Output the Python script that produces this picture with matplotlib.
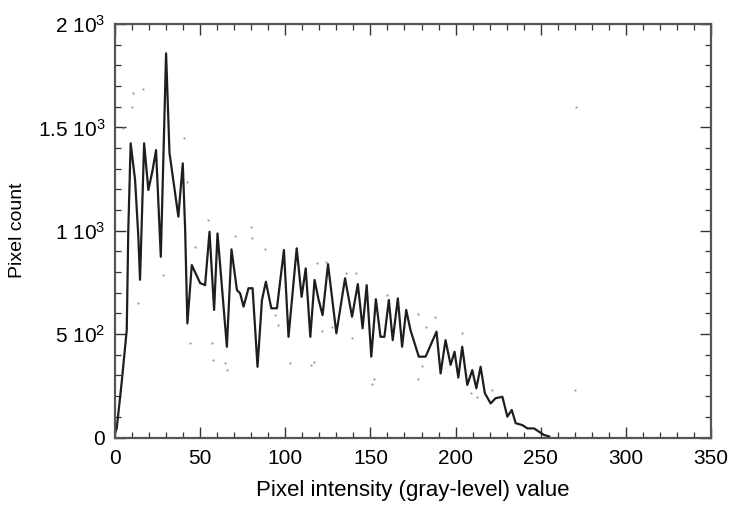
import numpy as np
import matplotlib
matplotlib.use('Agg')
import matplotlib.pyplot as plt
from matplotlib.ticker import MultipleLocator, FixedLocator

plt.rcParams['font.family'] = ['Liberation Sans', 'DejaVu Sans']
plt.rcParams['mathtext.fontset'] = 'custom'
plt.rcParams['mathtext.rm'] = 'Liberation Sans'
plt.rcParams['mathtext.it'] = 'Liberation Sans'

# Histogram trace (gray level vs pixel count)
intensity = [0, 1, 3.9, 6.9, 7.8,
             9.2, 11.8, 13.7, 14.7, 17.1,
             19.6, 22, 24.1, 26.9, 30,
             32, 35, 37.2, 39.8, 41.2,
             42.5, 45.1, 50, 52.9, 55.5,
             58.2, 60.2, 65.7, 68.4, 71.6,
             73.5, 75.5, 78.4, 80.8, 83.7,
             86.3, 88.6, 91.8, 95.1, 99.2,
             101.9, 106.7, 109.6, 112, 114.7,
             117.2, 119.6, 121.9, 125.1, 130,
             135.1, 139.2, 142.6, 145.4, 147.8,
             150.5, 153.2, 155.9, 158.2, 160.8,
             163.1, 166.1, 168.6, 171, 173.5,
             178.4, 182.4, 188.8, 191.2, 194.1,
             197.1, 199.4, 201.6, 203.9, 206.9,
             209.8, 212.2, 214.7, 217.2, 220.6,
             223.5, 227.5, 230.4, 233, 235.3,
             239.2, 242.2, 246.1, 249, 252,
             255]
counts = [20, 44, 264, 520, 1003,
          1423, 1245, 971, 763, 1423,
          1197, 1290, 1390, 874, 1858,
          1376, 1200, 1068, 1326, 1003,
          552, 834, 747, 737, 995,
          617, 987, 439, 910, 713,
          697, 633, 722, 722, 342,
          665, 753, 625, 625, 907,
          487, 915, 680, 818, 487,
          762, 665, 592, 838, 504,
          770, 584, 742, 528, 737,
          391, 669, 487, 487, 665,
          471, 673, 439, 617, 520,
          391, 391, 512, 310, 471,
          351, 415, 290, 439, 254,
          326, 238, 342, 214, 165,
          190, 197, 101, 133, 69,
          60, 44, 44, 28, 12,
          5]

# faint scattered dots around the curve
dot_x = [4.9, 9.8, 10.8, 16.3, 13.7, 28.4, 40.6, 42.2, 44.1, 47.1,
         54.5, 56.9, 57.8, 64.7, 65.7, 70.2, 80, 80.4, 87.8, 93.7,
         95.7, 102.9, 115.3, 116.6, 118.6, 121.6, 123.9, 127.5, 135.9, 139.2,
         141.8, 151, 152, 159.8, 177.8, 177.8, 180, 182.4, 188.2, 203.9,
         208.8, 212.7, 221.6, 270, 271]
dot_y = [1495, 1597, 1667, 1684, 649, 786, 1447, 1237, 455, 923,
         1052, 455, 375, 359, 326, 974, 1019, 963, 910, 592,
         544, 359, 351, 367, 842, 516, 850, 536, 797, 480,
         794, 259, 281, 689, 597, 283, 346, 536, 584, 504,
         214, 194, 230, 230, 1600]

y_ticks = [0, 500, 1000, 1500, 2000]
y_labels = ['0', r'5 10$^2$', r'1 10$^3$', r'1.5 10$^3$', r'2 10$^3$']

fig = plt.figure(figsize=(7.34, 5.12), dpi=100)
ax = fig.add_axes([115/734, 74.5/512, 596/734, 413.5/512])

ax.plot(dot_x, dot_y, 's', ms=1.3, color='#8a8a8a', mec='none')
ax.plot(intensity, counts, '-', color='#1e1e1e', lw=1.6)

ax.set_xlim(0, 350)
ax.set_ylim(0, 2000)
ax.xaxis.set_major_locator(MultipleLocator(50))
ax.xaxis.set_minor_locator(MultipleLocator(10))
ax.yaxis.set_major_locator(FixedLocator(y_ticks))
ax.yaxis.set_minor_locator(MultipleLocator(100))
ax.set_yticklabels(y_labels)

ax.tick_params(which='both', direction='in', top=True, right=True,
               labelsize=15, color='#333333')
ax.tick_params(which='major', length=8, width=1.0)
ax.tick_params(which='minor', length=4.5, width=0.9)
ax.tick_params(axis='x', pad=8)
ax.tick_params(axis='y', pad=7)
for s in ax.spines.values():
    s.set_linewidth(1.6)
    s.set_color('#555555')

ax.set_xlabel('Pixel intensity (gray-level) value', fontsize=16, labelpad=9)
ax.set_ylabel('Pixel count', fontsize=14, labelpad=8)

fig.savefig('out.png', dpi=100)
